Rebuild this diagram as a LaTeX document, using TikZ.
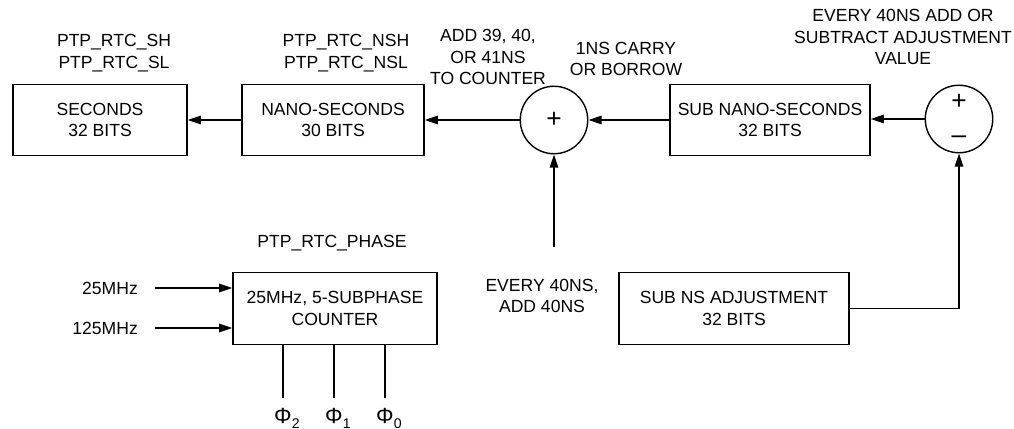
\documentclass[tikz,border=0pt]{standalone}
\usepackage{fontspec}
\setmainfont{Liberation Sans}
\usetikzlibrary{arrows.meta,positioning}

\begin{document}
\begin{tikzpicture}[x=0.02cm,y=-0.02cm,
    every node/.style={font=\fontsize{10}{12.3}\selectfont,align=center},
    reg/.style={draw,line width=0.8pt,minimum height=1.43cm,inner sep=2pt},
    adder/.style={draw,circle,line width=0.8pt,minimum size=1.35cm,inner sep=0pt,
      font=\fontsize{15}{12}\selectfont},
    arr/.style={line width=0.8pt,-{Triangle[length=7.5pt,width=4.8pt]}},
    wire/.style={line width=0.8pt}]
    \useasboundingbox (0,0) rectangle (1014,429);
    % counter chain
    \node[reg,minimum width=3.48cm] (sec) at (100,120) {SECONDS\\32 BITS};
    \node[reg,minimum width=3.64cm] (ns) at (333,120) {NANO-SECONDS\\30 BITS};
    \node[adder] (sum) at (554,120) {+};
    \node[reg,minimum width=4cm] (subns) at (770,120) {SUB NANO-SECONDS\\32 BITS};
    \node[adder] (pm) at (959,119) {+\\[7.5pt]–};
    \draw[arr] (ns) -- (sec);
    \draw[arr] (sum) -- (ns);
    \draw[arr] (subns) -- (sum);
    \draw[arr] (pm.west) -- (pm.west -| subns.east);
    \node (slbl) at (114,53) {PTP\_RTC\_SH\\PTP\_RTC\_SL};
    \node (nslbl) at (346,53) {PTP\_RTC\_NSH\\PTP\_RTC\_NSL};
    \node (addlbl) at (488,57) {ADD 39, 40,\\OR 41NS\\TO COUNTER};
    \node (carry) at (626,59) {1NS CARRY\\OR BORROW};
    \node (adjlbl) at (903,37) {EVERY 40NS ADD OR\\SUBTRACT ADJUSTMENT\\VALUE};
    % phase counter
    \node[reg,minimum width=4.08cm] (cnt) at (335,308.5) {25MHz, 5-SUBPHASE\\COUNTER};
    \node (phase) at (332,243) {PTP\_RTC\_PHASE};
    \foreach \f/\y in {25/288,125/328} {
      \coordinate (in\f) at (155,\y);
      \node[left=0.22cm of in\f] (f\f) {\f MHz};
      \draw[arr] (in\f) -- (in\f -| cnt.west);
    }
    \foreach \i/\x in {2/283,1/334,0/385} {
      \node[anchor=base,font=\fontsize{12.5}{14}\selectfont] (phi\i) at (\x,423)
        {Φ\rlap{\fontsize{8}{9}\selectfont\raisebox{-3pt}{\i}}};
      \draw[wire,shorten >=0.08cm] (cnt.south -| phi\i) -- (phi\i.north);
    }
    % adjustment
    \node[reg,minimum width=4.6cm] (adj) at (734,308.5) {SUB NS ADJUSTMENT\\32 BITS};
    \node (every) at (542,296) {EVERY 40NS,\\ADD 40NS};
    \draw[arr] ([yshift=0.51cm]every.north -| sum) -- (sum);
    \draw[arr] (adj.east) -| (pm);
  \end{tikzpicture}
\end{document}
